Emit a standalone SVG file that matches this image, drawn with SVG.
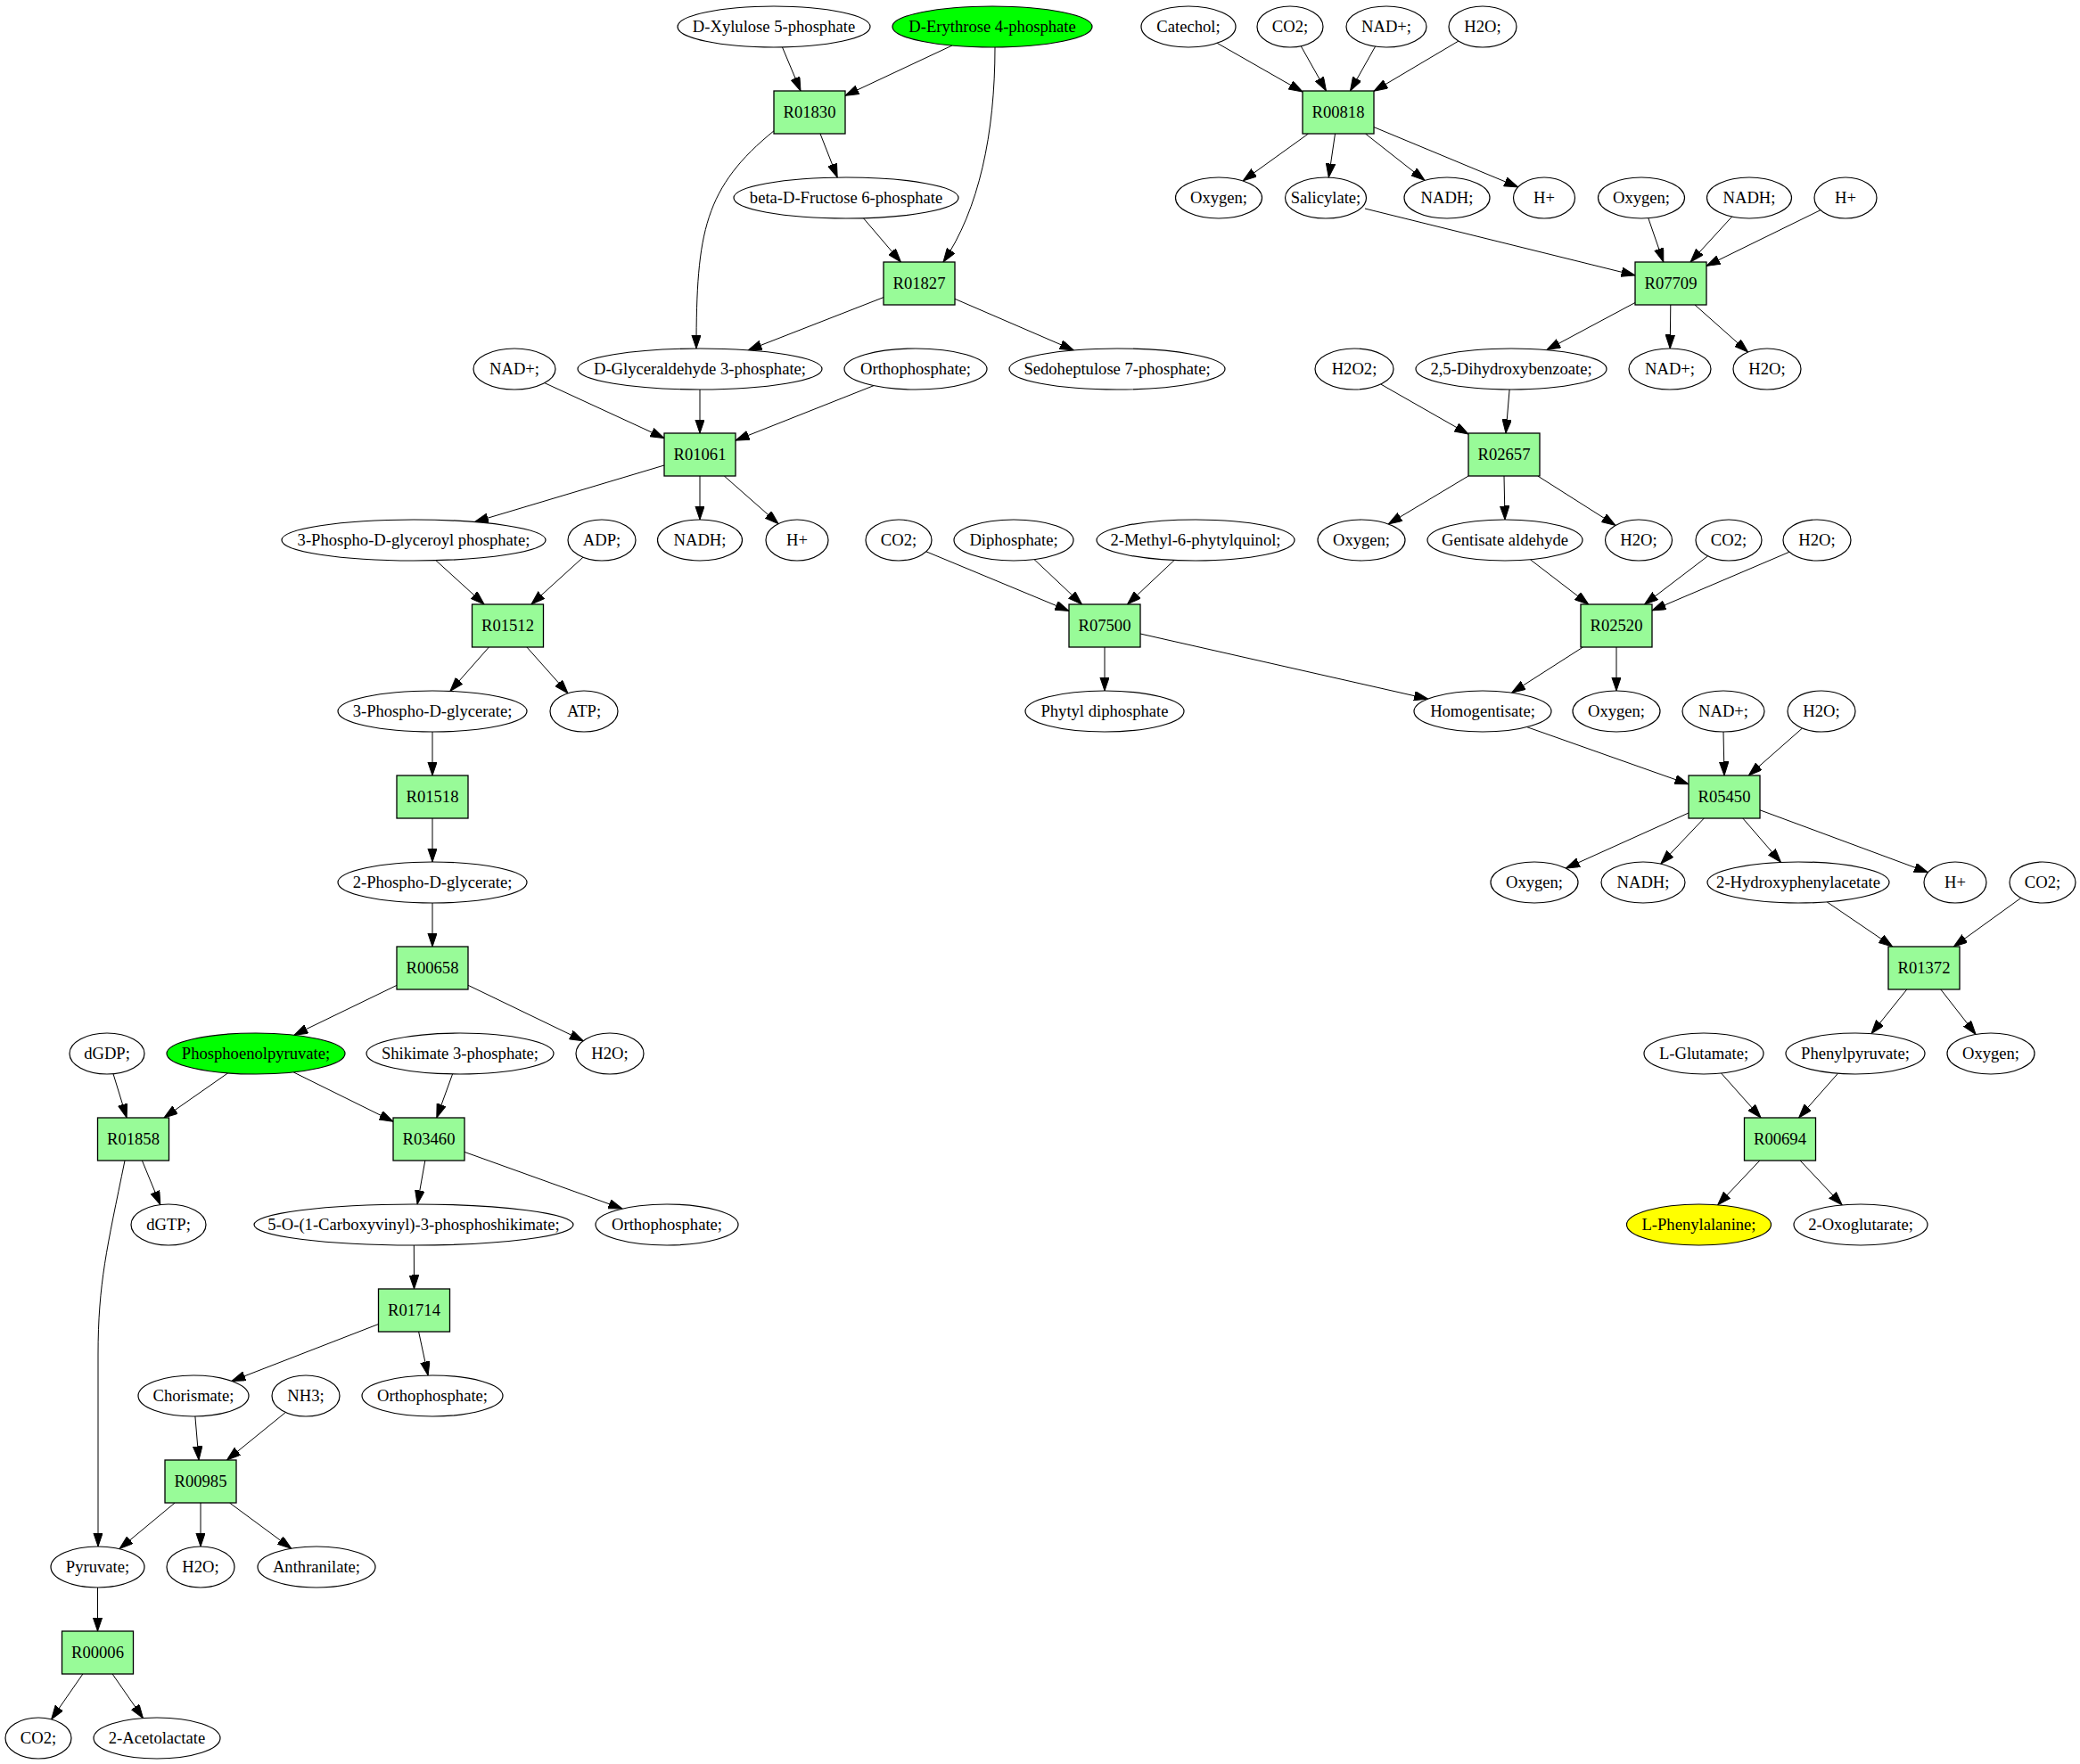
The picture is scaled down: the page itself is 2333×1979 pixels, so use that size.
<svg xmlns="http://www.w3.org/2000/svg" width="2333" height="1979" viewBox="0 0 2333 1979">
<style>
ellipse{fill:#ffffff;stroke:#000;stroke-width:1.2}
ellipse.g{fill:#00ff00}
ellipse.y{fill:#ffff00}
rect{fill:#98fb98;stroke:#000;stroke-width:1.3}
text{font-family:"Liberation Serif","Times New Roman",serif;font-size:18.6px;text-anchor:middle;fill:#000}
#edges path,#edges line{stroke:#000;stroke-width:1;fill:none;marker-end:url(#ah)}
</style>
<defs>
<marker id="ah" markerUnits="userSpaceOnUse" markerWidth="16" markerHeight="11" refX="15.5" refY="5.25" orient="auto">
<path d="M0,0 L15.5,5.25 L0,10.5 z" fill="#000" stroke="#000" stroke-width="1"/>
</marker>
</defs>
<rect x="0" y="0" width="2333" height="1979" style="fill:#fff;stroke:none"/>
<g id="edges">
<line x1="877.5" y1="53" x2="898" y2="102"/>
<line x1="1068" y1="51" x2="948" y2="107.3"/>
<line x1="920" y1="150" x2="939.2" y2="199.1"/>
<path d="M869,146 C790,210 781,260 781,391"/>
<line x1="968.4" y1="244.7" x2="1010.5" y2="294"/>
<path d="M1116,53 C1116,150 1098,235 1058,294"/>
<line x1="991" y1="333.6" x2="839.1" y2="392.9"/>
<line x1="1071" y1="335.3" x2="1204.3" y2="392.9"/>
<line x1="610.8" y1="429.6" x2="745" y2="491.5"/>
<line x1="785" y1="437" x2="785" y2="486"/>
<line x1="980.1" y1="432.6" x2="825" y2="494.1"/>
<line x1="745" y1="522" x2="532.3" y2="585.6"/>
<line x1="785" y1="534" x2="785" y2="583"/>
<line x1="812.3" y1="534" x2="873.1" y2="587.6"/>
<line x1="488.9" y1="628.7" x2="543.1" y2="678"/>
<line x1="654" y1="625.2" x2="595.9" y2="678"/>
<line x1="548.4" y1="726" x2="504.9" y2="775.4"/>
<line x1="590.9" y1="726" x2="637" y2="777.8"/>
<line x1="485" y1="821" x2="485" y2="870"/>
<line x1="485" y1="918" x2="485" y2="967"/>
<line x1="485" y1="1013" x2="485" y2="1062"/>
<line x1="445" y1="1105.4" x2="329.9" y2="1161.2"/>
<line x1="525" y1="1105.3" x2="654.3" y2="1167.7"/>
<line x1="127" y1="1204.7" x2="142.1" y2="1254"/>
<line x1="255.7" y1="1203.8" x2="183.9" y2="1254"/>
<line x1="329.2" y1="1202.9" x2="441" y2="1258.2"/>
<line x1="507.6" y1="1204.9" x2="489.8" y2="1254"/>
<line x1="159.4" y1="1302" x2="179.8" y2="1351.6"/>
<path d="M140,1302 C120,1400 110,1440 110,1520 L110,1735"/>
<line x1="476.8" y1="1302" x2="468.1" y2="1351"/>
<line x1="521" y1="1292.4" x2="698" y2="1356"/>
<line x1="464.3" y1="1397" x2="464.5" y2="1446"/>
<line x1="424.5" y1="1485.5" x2="259.8" y2="1549.4"/>
<line x1="469.6" y1="1494" x2="480.1" y2="1543"/>
<line x1="218.9" y1="1589" x2="223" y2="1638"/>
<line x1="320.3" y1="1584.5" x2="254.5" y2="1638"/>
<line x1="196.1" y1="1686" x2="134" y2="1737.6"/>
<line x1="225" y1="1686" x2="225" y2="1735"/>
<line x1="257.5" y1="1686" x2="326.8" y2="1737.2"/>
<line x1="109.5" y1="1781" x2="109.5" y2="1830"/>
<line x1="92.9" y1="1878" x2="57.6" y2="1928.9"/>
<line x1="126.1" y1="1878" x2="160.5" y2="1927.6"/>
<line x1="1365.1" y1="48.3" x2="1461" y2="103.1"/>
<line x1="1459.2" y1="51.7" x2="1487.5" y2="102"/>
<line x1="1542.6" y1="52.1" x2="1514.5" y2="102"/>
<line x1="1635.8" y1="46.1" x2="1541" y2="102.3"/>
<line x1="1467.5" y1="150" x2="1394.2" y2="202.8"/>
<line x1="1497.5" y1="150" x2="1490.3" y2="199"/>
<line x1="1531.5" y1="150" x2="1598" y2="202.4"/>
<line x1="1541" y1="142.6" x2="1702.7" y2="209.8"/>
<line x1="1531" y1="234" x2="1834" y2="309"/>
<line x1="1848.8" y1="244.7" x2="1865.8" y2="294"/>
<line x1="1942.7" y1="243" x2="1896" y2="294"/>
<line x1="2041.9" y1="235.7" x2="1914" y2="298.4"/>
<line x1="1834" y1="339.5" x2="1734.8" y2="392.6"/>
<line x1="1873.8" y1="342" x2="1873.2" y2="391"/>
<line x1="1901" y1="342" x2="1960.6" y2="395"/>
<line x1="1548.7" y1="431" x2="1647" y2="487.1"/>
<line x1="1693.1" y1="437" x2="1689" y2="486"/>
<line x1="1647" y1="534" x2="1557.2" y2="587.9"/>
<line x1="1687" y1="534" x2="1688" y2="583"/>
<line x1="1724.8" y1="534" x2="1812" y2="589.4"/>
<line x1="1038.8" y1="618.8" x2="1199" y2="685.4"/>
<line x1="1160" y1="627.6" x2="1213.5" y2="678"/>
<line x1="1317.1" y1="628.5" x2="1264.5" y2="678"/>
<line x1="1239" y1="726" x2="1239" y2="775"/>
<line x1="1279" y1="711" x2="1601.6" y2="784.1"/>
<line x1="1716.3" y1="627.7" x2="1781.8" y2="678"/>
<line x1="1915.6" y1="623.8" x2="1844.5" y2="678"/>
<line x1="2006.9" y1="619.3" x2="1853" y2="684.9"/>
<line x1="1775.5" y1="726" x2="1695.6" y2="777.2"/>
<line x1="1813" y1="726" x2="1813" y2="775"/>
<line x1="1712.6" y1="815.6" x2="1894" y2="879.8"/>
<line x1="1933" y1="821" x2="1934" y2="870"/>
<line x1="2021.5" y1="817" x2="1961.3" y2="870"/>
<line x1="1894" y1="912" x2="1756.3" y2="974.1"/>
<line x1="1911.3" y1="918" x2="1862.8" y2="969.1"/>
<line x1="1954.8" y1="918" x2="1997.5" y2="967.4"/>
<line x1="1974" y1="908.8" x2="2162.5" y2="978.7"/>
<line x1="2049.1" y1="1011.8" x2="2122.8" y2="1062"/>
<line x1="2266.8" y1="1007.4" x2="2191.3" y2="1062"/>
<line x1="2138.8" y1="1110" x2="2099" y2="1159.6"/>
<line x1="2176.8" y1="1110" x2="2216.1" y2="1160.4"/>
<line x1="1930.6" y1="1204" x2="1975.1" y2="1254"/>
<line x1="2061.4" y1="1204.3" x2="2017.6" y2="1254"/>
<line x1="1973.8" y1="1302" x2="1926.6" y2="1351.8"/>
<line x1="2019.1" y1="1302" x2="2066.2" y2="1351.9"/>
</g>
<g id="n_xyl"><ellipse cx="868" cy="30" rx="108" ry="23"/><text x="868" y="36">D-Xylulose 5-phosphate</text></g>
<g id="n_e4p"><ellipse class="g" cx="1113" cy="30" rx="112" ry="23"/><text x="1113" y="36">D-Erythrose 4-phosphate</text></g>
<g id="n_catechol"><ellipse cx="1333" cy="30" rx="53" ry="23"/><text x="1333" y="36">Catechol;</text></g>
<g id="n_co2a"><ellipse cx="1447" cy="30" rx="37" ry="23"/><text x="1447" y="36">CO2;</text></g>
<g id="n_nada"><ellipse cx="1555" cy="30" rx="45" ry="23"/><text x="1555" y="36">NAD+;</text></g>
<g id="n_h2oa"><ellipse cx="1663" cy="30" rx="38" ry="23"/><text x="1663" y="36">H2O;</text></g>
<g id="R01830"><rect x="868" y="102" width="80" height="48"/><text x="908" y="132">R01830</text></g>
<g id="R00818"><rect x="1461" y="102" width="80" height="48"/><text x="1501" y="132">R00818</text></g>
<g id="n_f6p"><ellipse cx="949" cy="222" rx="126" ry="23"/><text x="949" y="228">beta-D-Fructose 6-phosphate</text></g>
<g id="n_oxy1"><ellipse cx="1367" cy="222" rx="48.5" ry="23"/><text x="1367" y="228">Oxygen;</text></g>
<g id="n_salicylate"><ellipse cx="1487" cy="222" rx="45.5" ry="23"/><text x="1487" y="228">Salicylate;</text></g>
<g id="n_nadh1"><ellipse cx="1623" cy="222" rx="48" ry="23"/><text x="1623" y="228">NADH;</text></g>
<g id="n_h1"><ellipse cx="1732" cy="222" rx="34.5" ry="23"/><text x="1732" y="228">H+</text></g>
<g id="n_oxy2"><ellipse cx="1841" cy="222" rx="48.5" ry="23"/><text x="1841" y="228">Oxygen;</text></g>
<g id="n_nadh2"><ellipse cx="1962" cy="222" rx="47.5" ry="23"/><text x="1962" y="228">NADH;</text></g>
<g id="n_h2"><ellipse cx="2070" cy="222" rx="35" ry="23"/><text x="2070" y="228">H+</text></g>
<g id="R01827"><rect x="991" y="294" width="80" height="48"/><text x="1031" y="324">R01827</text></g>
<g id="R07709"><rect x="1834" y="294" width="80" height="48"/><text x="1874" y="324">R07709</text></g>
<g id="n_nad2"><ellipse cx="577" cy="414" rx="46" ry="23"/><text x="577" y="420">NAD+;</text></g>
<g id="n_g3p"><ellipse cx="785" cy="414" rx="137" ry="23"/><text x="785" y="420">D-Glyceraldehyde 3-phosphate;</text></g>
<g id="n_pi1"><ellipse cx="1027" cy="414" rx="80" ry="23"/><text x="1027" y="420">Orthophosphate;</text></g>
<g id="n_s7p"><ellipse cx="1253" cy="414" rx="121" ry="23"/><text x="1253" y="420">Sedoheptulose 7-phosphate;</text></g>
<g id="n_h2o2"><ellipse cx="1519" cy="414" rx="44" ry="23"/><text x="1519" y="420">H2O2;</text></g>
<g id="n_dhb"><ellipse cx="1695" cy="414" rx="107" ry="23"/><text x="1695" y="420">2,5-Dihydroxybenzoate;</text></g>
<g id="n_nad3"><ellipse cx="1873" cy="414" rx="46" ry="23"/><text x="1873" y="420">NAD+;</text></g>
<g id="n_h2ob"><ellipse cx="1982" cy="414" rx="38" ry="23"/><text x="1982" y="420">H2O;</text></g>
<g id="R01061"><rect x="745" y="486" width="80" height="48"/><text x="785" y="516">R01061</text></g>
<g id="R02657"><rect x="1647" y="486" width="80" height="48"/><text x="1687" y="516">R02657</text></g>
<g id="n_bpg"><ellipse cx="464" cy="606" rx="148" ry="23"/><text x="464" y="612">3-Phospho-D-glyceroyl phosphate;</text></g>
<g id="n_adp"><ellipse cx="675" cy="606" rx="38" ry="23"/><text x="675" y="612">ADP;</text></g>
<g id="n_nadh3"><ellipse cx="785" cy="606" rx="47.5" ry="23"/><text x="785" y="612">NADH;</text></g>
<g id="n_h3"><ellipse cx="894" cy="606" rx="35" ry="23"/><text x="894" y="612">H+</text></g>
<g id="n_co2b"><ellipse cx="1008" cy="606" rx="37" ry="23"/><text x="1008" y="612">CO2;</text></g>
<g id="n_pp"><ellipse cx="1137" cy="606" rx="67" ry="23"/><text x="1137" y="612">Diphosphate;</text></g>
<g id="n_mpq"><ellipse cx="1341" cy="606" rx="111" ry="23"/><text x="1341" y="612">2-Methyl-6-phytylquinol;</text></g>
<g id="n_oxy3"><ellipse cx="1527" cy="606" rx="49" ry="23"/><text x="1527" y="612">Oxygen;</text></g>
<g id="n_gald"><ellipse cx="1688" cy="606" rx="87" ry="23"/><text x="1688" y="612">Gentisate aldehyde</text></g>
<g id="n_h2oc"><ellipse cx="1838" cy="606" rx="37.5" ry="23"/><text x="1838" y="612">H2O;</text></g>
<g id="n_co2c"><ellipse cx="1939" cy="606" rx="37" ry="23"/><text x="1939" y="612">CO2;</text></g>
<g id="n_h2od"><ellipse cx="2038" cy="606" rx="38" ry="23"/><text x="2038" y="612">H2O;</text></g>
<g id="R01512"><rect x="529.5" y="678" width="80" height="48"/><text x="569.5" y="708">R01512</text></g>
<g id="R07500"><rect x="1199" y="678" width="80" height="48"/><text x="1239" y="708">R07500</text></g>
<g id="R02520"><rect x="1773" y="678" width="80" height="48"/><text x="1813" y="708">R02520</text></g>
<g id="n_3pg"><ellipse cx="485" cy="798" rx="106" ry="23"/><text x="485" y="804">3-Phospho-D-glycerate;</text></g>
<g id="n_atp"><ellipse cx="655" cy="798" rx="38" ry="23"/><text x="655" y="804">ATP;</text></g>
<g id="n_phytylpp"><ellipse cx="1239" cy="798" rx="89" ry="23"/><text x="1239" y="804">Phytyl diphosphate</text></g>
<g id="n_hga"><ellipse cx="1663" cy="798" rx="77" ry="23"/><text x="1663" y="804">Homogentisate;</text></g>
<g id="n_oxy4"><ellipse cx="1813" cy="798" rx="49" ry="23"/><text x="1813" y="804">Oxygen;</text></g>
<g id="n_nad4"><ellipse cx="1933" cy="798" rx="46" ry="23"/><text x="1933" y="804">NAD+;</text></g>
<g id="n_h2oe"><ellipse cx="2043" cy="798" rx="38" ry="23"/><text x="2043" y="804">H2O;</text></g>
<g id="R01518"><rect x="445" y="870" width="80" height="48"/><text x="485" y="900">R01518</text></g>
<g id="R05450"><rect x="1894" y="870" width="80" height="48"/><text x="1934" y="900">R05450</text></g>
<g id="n_2pg"><ellipse cx="485" cy="990" rx="106" ry="23"/><text x="485" y="996">2-Phospho-D-glycerate;</text></g>
<g id="n_oxy5"><ellipse cx="1721" cy="990" rx="49" ry="23"/><text x="1721" y="996">Oxygen;</text></g>
<g id="n_nadh4"><ellipse cx="1843" cy="990" rx="47" ry="23"/><text x="1843" y="996">NADH;</text></g>
<g id="n_hpa"><ellipse cx="2017" cy="990" rx="102" ry="23"/><text x="2017" y="996">2-Hydroxyphenylacetate</text></g>
<g id="n_h4"><ellipse cx="2193" cy="990" rx="35" ry="23"/><text x="2193" y="996">H+</text></g>
<g id="n_co2d"><ellipse cx="2291" cy="990" rx="37" ry="23"/><text x="2291" y="996">CO2;</text></g>
<g id="R00658"><rect x="445" y="1062" width="80" height="48"/><text x="485" y="1092">R00658</text></g>
<g id="R01372"><rect x="2118" y="1062" width="80" height="48"/><text x="2158" y="1092">R01372</text></g>
<g id="n_dgdp"><ellipse cx="120" cy="1182" rx="42" ry="23"/><text x="120" y="1188">dGDP;</text></g>
<g id="n_pep"><ellipse class="g" cx="287" cy="1182" rx="100" ry="23"/><text x="287" y="1188">Phosphoenolpyruvate;</text></g>
<g id="n_s3p"><ellipse cx="516" cy="1182" rx="105" ry="23"/><text x="516" y="1188">Shikimate 3-phosphate;</text></g>
<g id="n_h2of"><ellipse cx="684" cy="1182" rx="38" ry="23"/><text x="684" y="1188">H2O;</text></g>
<g id="n_glu"><ellipse cx="1911" cy="1182" rx="67" ry="23"/><text x="1911" y="1188">L-Glutamate;</text></g>
<g id="n_phpyr"><ellipse cx="2081" cy="1182" rx="78" ry="23"/><text x="2081" y="1188">Phenylpyruvate;</text></g>
<g id="n_oxy6"><ellipse cx="2233" cy="1182" rx="49" ry="23"/><text x="2233" y="1188">Oxygen;</text></g>
<g id="R01858"><rect x="109.5" y="1254" width="80" height="48"/><text x="149.5" y="1284">R01858</text></g>
<g id="R03460"><rect x="441" y="1254" width="80" height="48"/><text x="481" y="1284">R03460</text></g>
<g id="R00694"><rect x="1956.5" y="1254" width="80" height="48"/><text x="1996.5" y="1284">R00694</text></g>
<g id="n_dgtp"><ellipse cx="189" cy="1374" rx="42" ry="23"/><text x="189" y="1380">dGTP;</text></g>
<g id="n_epsp"><ellipse cx="464" cy="1374" rx="179" ry="23"/><text x="464" y="1380">5-O-(1-Carboxyvinyl)-3-phosphoshikimate;</text></g>
<g id="n_pi2"><ellipse cx="748" cy="1374" rx="80" ry="23"/><text x="748" y="1380">Orthophosphate;</text></g>
<g id="n_phe"><ellipse class="y" cx="1905.5" cy="1374" rx="81" ry="23"/><text x="1905.5" y="1380">L-Phenylalanine;</text></g>
<g id="n_akg"><ellipse cx="2087" cy="1374" rx="75" ry="23"/><text x="2087" y="1380">2-Oxoglutarate;</text></g>
<g id="R01714"><rect x="424.5" y="1446" width="80" height="48"/><text x="464.5" y="1476">R01714</text></g>
<g id="n_chor"><ellipse cx="217" cy="1566" rx="62" ry="23"/><text x="217" y="1572">Chorismate;</text></g>
<g id="n_nh3"><ellipse cx="343" cy="1566" rx="38" ry="23"/><text x="343" y="1572">NH3;</text></g>
<g id="n_pi3"><ellipse cx="485" cy="1566" rx="79" ry="23"/><text x="485" y="1572">Orthophosphate;</text></g>
<g id="R00985"><rect x="185" y="1638" width="80" height="48"/><text x="225" y="1668">R00985</text></g>
<g id="n_pyr"><ellipse cx="109.5" cy="1758" rx="52.5" ry="23"/><text x="109.5" y="1764">Pyruvate;</text></g>
<g id="n_h2og"><ellipse cx="225" cy="1758" rx="38" ry="23"/><text x="225" y="1764">H2O;</text></g>
<g id="n_anth"><ellipse cx="355" cy="1758" rx="66" ry="23"/><text x="355" y="1764">Anthranilate;</text></g>
<g id="R00006"><rect x="69.5" y="1830" width="80" height="48"/><text x="109.5" y="1860">R00006</text></g>
<g id="n_co2e"><ellipse cx="43" cy="1950" rx="37" ry="23"/><text x="43" y="1956">CO2;</text></g>
<g id="n_acl"><ellipse cx="176" cy="1950" rx="71" ry="23"/><text x="176" y="1956">2-Acetolactate</text></g>
</svg>
